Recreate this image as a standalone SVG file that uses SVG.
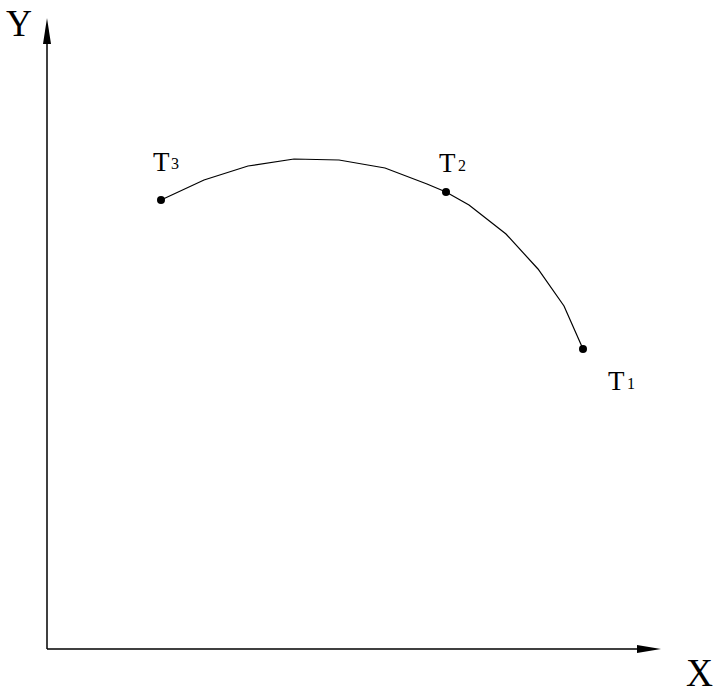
<svg xmlns="http://www.w3.org/2000/svg" width="719" height="695" viewBox="0 0 719 695">
<style>
.ax{stroke:#000;stroke-width:1.5;fill:none}
.crv{stroke:#000;stroke-width:1.2;fill:none}
.lbl{font-family:"Liberation Serif",serif;fill:#000}
.sub{font-family:"Liberation Serif",serif;fill:#000;font-size:16px}
.dot{fill:#000}
</style>
<rect width="719" height="695" fill="#fff"/>
<g id="connectors">
<line class="ax" x1="47" y1="649" x2="47" y2="40"/>
<polygon points="47,18 43,44 51,44" fill="#000"/>
<line class="ax" x1="47" y1="649" x2="640" y2="649"/>
<polygon points="661,649 637,645 637,653" fill="#000"/>
<polyline class="crv" points="161,200 204,180 248,166 294,159 339,160 385,168 427,184 446,192 469,205 506,234 538,269 564,306 583,349"/>
</g>
<g id="axis-y"><text class="lbl" x="6" y="36" font-size="38" textLength="26" lengthAdjust="spacingAndGlyphs">Y</text></g>
<g id="axis-x"><text class="lbl" x="686" y="686" font-size="40" textLength="27" lengthAdjust="spacingAndGlyphs">X</text></g>
<g id="T3"><circle class="dot" cx="161" cy="200" r="4"/><text class="lbl" x="153" y="171" font-size="27">T</text><text class="sub" x="171" y="169">3</text></g>
<g id="T2"><circle class="dot" cx="446" cy="192" r="4"/><text class="lbl" x="439" y="172" font-size="27">T</text><text class="sub" x="458" y="171">2</text></g>
<g id="T1"><circle class="dot" cx="583" cy="349" r="4"/><text class="lbl" x="608" y="390" font-size="27">T</text><text class="sub" x="627" y="389">1</text></g>
</svg>
